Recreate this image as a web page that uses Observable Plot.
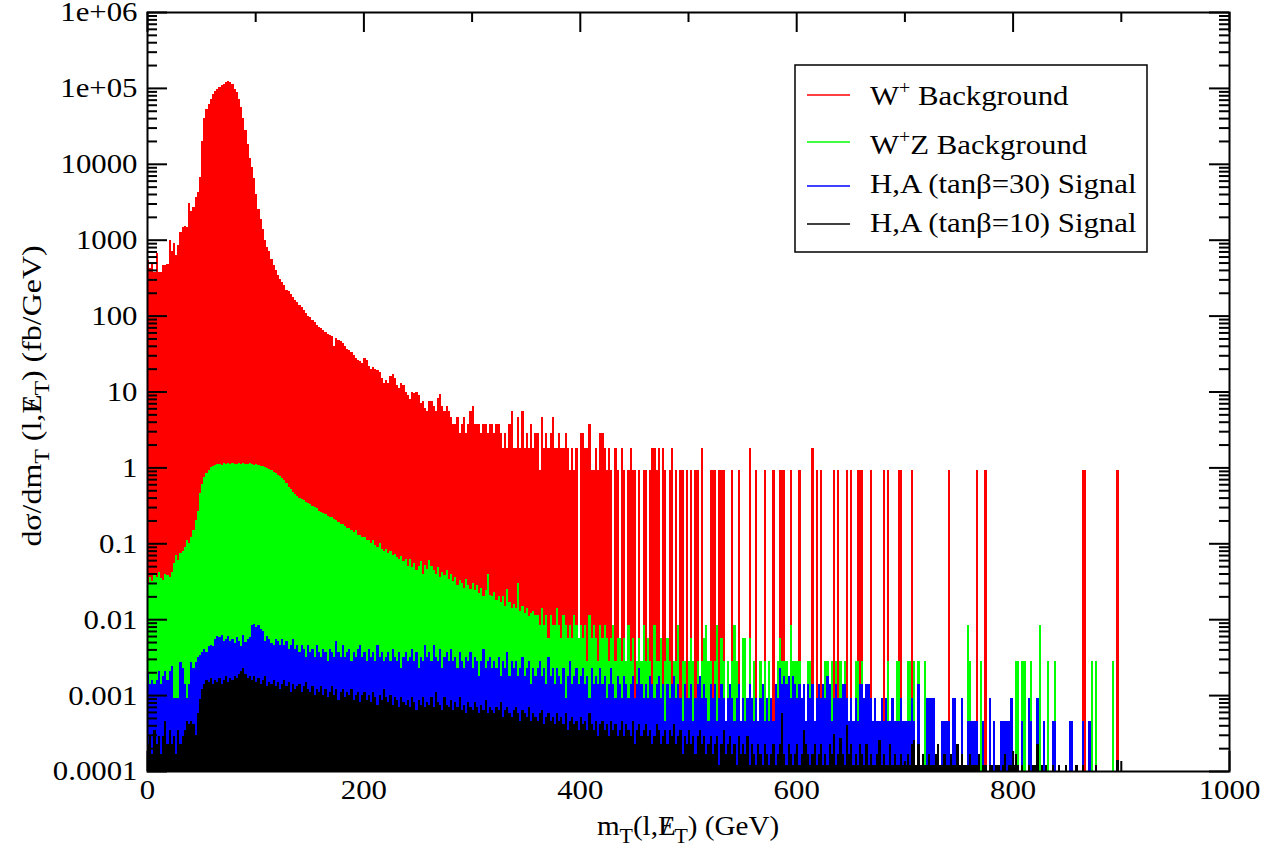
<!DOCTYPE html>
<html>
<head>
<meta charset="utf-8">
<script src="https://cdn.jsdelivr.net/npm/d3@7"></script>
<script src="https://cdn.jsdelivr.net/npm/@observablehq/plot@0.6"></script>
<style>
html,body{margin:0;padding:0;background:#fff;}
#chart{position:relative;width:1272px;height:848px;}
</style>
</head>
<body>
<div id="chart"></div>
<script>
// Histogram bins: 2 GeV wide, starting at 0 GeV
const binWidth = 2;

// W+ background, dσ/dmT (fb/GeV) per bin
const wPlusBackground = [
540,430,500,380,670,380,380,470,470,480,
1000,700,900,620,850,1250,1450,1500,1450,3000,
2400,2700,3700,4300,6800,20000,40000,52000,62000,72000,
82000,90000,96000,102000,108000,114000,120000,124000,121000,112000,
98000,88000,72000,56000,40000,28000,18000,12000,9000,6500,
4000,2500,1900,1400,1000,800,700,560,460,400,
340,300,280,250,220,210,190,175,160,150,
140,130,118,108,100,95,88,82,76,70,
68,64,60,58,56,54,40,50,48,46,
44,40,36,35,33,30,28,26,25,24,
28,26,22,20,21,20,19,18,15,13,
14,13,16,17,15,12,11,13,12,10,
9,8,10,9.5,10,9,7,7.5,6,5.5,
7.4,7.4,6.4,5.5,8.3,9.2,6.4,5.5,6.4,5.5,
4.6,3.7,3.7,4.6,2.8,3.7,4.6,2.8,3.7,5.5,
6.4,3.7,3.7,3.7,2.8,3.7,3.7,2.8,3.7,3.7,
2.8,3.7,3.7,2.8,1.8,2.8,1.8,3.7,5.5,1.8,
1.8,4.6,1.8,5.5,1.8,2.8,1.8,3.7,1.8,2.8,
2.8,.92,4.6,1.8,2.8,1.8,2.8,4.6,1.8,1.8,
2.8,1.8,1.8,2.8,1.8,.92,1.8,.92,1.8,0,
2.8,2.8,1.8,1.8,3.7,.92,.92,1.8,.92,2.8,
2.8,1.8,.92,1.8,.92,0,1.8,.92,0,1.8,
.92,0,.92,1.8,.92,.92,0,.92,0,.92,
.92,0,.92,1.8,1.8,.92,1.8,0,1.8,.92,
0,.92,1.8,0,.92,0,.92,.92,0,.92,
0,.92,0,.92,.92,0,1.8,0,0,0,
.92,.92,.92,0,.92,.92,.92,0,0,0,
.92,0,0,.92,0,0,0,0,1.8,0,
0,.92,0,0,0,.92,0,0,0,.92,
0,0,.92,.92,.92,0,0,.92,0,0,
0,.92,0,0,0,0,0,1.8,0,.92,
0,.92,0,0,0,0,0,.92,0,.92,
0,0,0,.92,0,.92,0,0,.92,.92,
.92,0,0,0,.92,0,0,0,0,0,
.92,0,.92,0,0,0,0,.92,.92,0,
0,0,0,.92,0,0,0,0,0,0,
0,0,0,0,0,0,0,0,0,0,
.92,0,0,0,0,0,0,0,0,0,
0,0,0,.92,0,0,0,.92,0,0,
0,0,0,0,0,0,0,0,0,0,
0,0,0,0,0,0,0,0,0,0,
0,0,0,0,0,0,0,0,0,0,
0,0,0,0,0,0,0,0,0,0,
0,0,.92,.92,0,0,0,0,0,0,
0,0,0,0,0,0,0,0,.92,0
];

// W+Z background
const wzBackground = [
.03,.036,.032,.04,.036,.042,.035,.033,.04,.038,
.036,.042,.055,.07,.06,.075,.08,.09,.11,.1,
.12,.15,.2,.27,.46,.6,.75,.85,.92,1.0,
1.04,1.08,1.1,1.12,1.08,1.15,1.12,1.14,1.1,1.15,
1.12,1.1,1.13,1.1,1.15,1.12,1.1,1.14,1.1,1.08,
1.1,1.08,1.05,1.03,1.0,.98,.95,.92,.88,.85,
.8,.76,.72,.68,.62,.56,.52,.48,.45,.42,
.4,.38,.37,.35,.34,.33,.31,.3,.29,.27,
.26,.25,.24,.23,.22,.22,.21,.2,.19,.18,
.18,.17,.16,.16,.15,.14,.15,.13,.13,.12,
.12,.11,.11,.1,.11,.095,.09,.1,.085,.08,
.085,.075,.08,.07,.072,.065,.062,.068,.058,.062,
.05,.062,.048,.055,.045,.05,.058,.04,.052,.046,
.06,.05,.044,.04,.048,.036,.042,.038,.045,.034,
.04,.032,.036,.028,.033,.03,.026,.034,.028,.025,
.03,.024,.028,.022,.026,.02,.024,.04,.021,.02,
.023,.018,.02,.017,.02,.015,.025,.017,.014,.016,
.014,.03,.013,.015,.012,.014,.011,.012,.013,.0114,
.0114,.0085,.0142,.0085,.0114,.0057,.0114,.0085,.0085,.0142,
.0085,.0057,.0114,.0085,.0057,.0085,.0057,.0114,.0085,.0057,
.0085,.0057,.0085,.0028,.0114,.0057,.0085,.0057,.0028,.0085,
.0057,.0085,.0057,.0028,.0057,.0085,.0028,.0057,.0057,.0028,
.0057,.0028,.0085,.0028,.0057,0,.0028,.0057,.0028,.0085,
.0028,.0057,.0028,0,.0085,.0028,.0028,.0057,0,.0028,
.0057,.0028,0,.0028,.0028,.0085,0,.0028,.0028,0,
.0028,.0057,.0028,0,.0028,0,.0028,.0057,.0085,.0028,
.0028,0,.0028,.0085,0,.0057,.0028,0,.0028,0,
.0028,.0085,.0028,0,0,.0057,.0057,0,.0057,0,
.0028,0,0,.0028,0,.0028,0,.0028,0,0,
0,.0028,.0057,.0028,.0028,.0028,0,.0085,.0028,.0028,
.0028,.0028,0,0,0,.0028,.0028,0,0,0,
0,0,0,.0028,.0028,0,.0028,0,.0028,0,
.0028,0,.0028,0,0,0,0,.0028,.0028,0,
.0028,0,0,0,0,0,0,0,0,0,
0,0,.0028,0,0,0,.0028,.0028,0,0,
0,.0028,.0028,0,.0028,0,.0028,0,0,.0028,
0,0,0,0,0,0,0,0,0,0,
0,0,0,0,0,0,0,0,0,.0085,
.0028,0,0,0,0,.0028,0,0,0,0,
0,0,0,0,0,0,0,0,0,0,
0,.0028,.0028,0,.0028,.0028,0,0,.0028,0,
0,0,.0085,0,0,0,.0028,0,0,.0028,
0,0,0,0,0,0,0,0,0,0,
0,0,0,0,0,0,.0028,0,.0028,0,
0,0,0,0,0,0,.0028,0,0,0
];

// H,A signal, tanβ = 30
const signalTan30 = [
.002,.0014,.0016,.0014,.0016,.0021,.0014,.0018,.0021,.0016,
.0021,.0024,.00092,.00092,.00092,.0027,.0023,.0014,.00092,.0014,
.0027,.0023,.0027,.0032,.0034,.0037,.004,.0037,.0045,.0046,
.0044,.0055,.006,.0058,.0062,.0052,.0055,.006,.0051,.0055,
.0049,.0058,.0052,.0045,.0062,.005,.0055,.0058,.0083,.0087,
.0078,.0083,.0074,.0069,.0051,.006,.0055,.0049,.0046,.0055,
.0051,.0046,.0055,.0046,.0051,.0041,.0046,.0055,.0041,.0046,
.0037,.0046,.0041,.0032,.0046,.0037,.0041,.0032,.0046,.0037,
.0032,.0041,.0037,.0028,.0041,.0037,.0032,.0051,.0037,.0032,
.0046,.0032,.0037,.0041,.0028,.0037,.0032,.0041,.0046,.0032,
.0037,.0028,.0041,.0032,.0037,.0028,.0046,.0032,.0037,.0028,
.0032,.0037,.0028,.0041,.0032,.0028,.0037,.0023,.0032,.0037,
.0028,.0032,.0041,.0028,.0037,.0023,.0032,.0028,.0046,.0032,
.0037,.0028,.0046,.0032,.0028,.0041,.0023,.0032,.0037,.0028,
.0041,.0028,.0032,.0023,.0037,.0028,.0023,.0032,.0028,.0037,
.0023,.0032,.0028,.0018,.0028,.0041,.0023,.0028,.0032,.0023,
.0028,.0023,.0032,.0018,.0028,.0023,.0037,.0018,.0028,.0023,
.0028,.0018,.0023,.0032,.0018,.0023,.0028,.0014,.0023,.0018,
.0023,.0028,.0018,.0023,.0014,.0032,.0018,.0023,.0014,.0023,
.0018,.0014,.0023,.00092,.0018,.0028,.0014,.0018,.0023,.0014,
.0018,.0023,.0014,.0018,.00092,.0023,.0014,.0018,.0014,.0023,
.0014,.0018,.00092,.0014,.0023,.0014,.00092,.0018,.0014,.00092,
.0018,.0014,.00092,.0014,.0018,.00092,.0014,.0023,.0014,.00092,
.0014,.00092,.0018,.0014,.00092,.0014,.0018,.00092,.0014,.00046,
.0014,.00092,.0014,.0018,.00092,.0014,.00092,.00046,.0014,.00092,
.00092,.0014,.00046,.00092,.0014,.0018,.00092,.0014,.00092,.00046,
.0014,.00092,.0014,.00046,.00092,.0014,.00092,.00046,.00092,.0014,
.00092,.00046,.00092,.0014,.00046,.00092,.00046,.00092,.0014,.00092,
.00046,.00092,.00046,.00092,.0014,.00046,.00092,.00046,.00092,.00046,
.0014,.00092,.0023,.0014,.0018,.0014,.0018,.00092,.0018,.0014,
.00092,.0014,.00092,.0014,.00046,.0014,.00092,.0014,.00046,.00092,
.0014,.00092,.0014,.00092,.0018,.0014,.00046,.00092,.0014,.00092,
.00092,.0014,.0014,.00092,.00046,.00092,.00046,.00092,.00046,.0014,
.0014,.00092,.0014,.0014,.00092,.00046,.00092,.00046,.00046,.00092,
.00046,.00092,.00046,.00046,.00092,.00046,.00046,.00046,.00092,.00046,
.00046,.00046,.00046,.00092,.00046,0,.0014,0,0,0,
.00092,.00092,.00092,.00092,0,0,0,.00046,.00046,.00046,
.00046,0,.00092,.00092,0,0,.00092,0,0,.00046,
.00046,.00046,.00046,.00046,0,0,.00046,0,0,.00092,
0,.00046,0,0,.00046,.00046,.00046,.00046,.00046,.00092,
0,0,0,0,.00046,0,0,.00092,.00046,0,
0,.00092,0,0,.00046,0,0,0,.00046,.00046,
0,0,0,0,0,0,.00046,.00046,0,0,
0,0,.00046,0,0,.00046,0,0,0,0,
0,0,0,0,0,0,0,0,0,0
];

// H,A signal, tanβ = 10
const signalTan10 = [
.00023,.00029,.00017,.00035,.00023,.00029,.00017,.00029,.00046,.00023,
.00035,.00023,.00029,.00017,.00035,.00023,.00029,.00035,.00046,.00041,
.00046,.00041,.0003,.00058,.0009,.0012,.0014,.0016,.0015,.0017,
.0014,.0016,.0015,.0017,.0014,.0016,.0018,.0015,.0017,.0016,
.0018,.0017,.0019,.0021,.0023,.0019,.0017,.0018,.0016,.0018,
.0015,.0017,.0014,.0016,.0018,.0013,.0015,.0014,.0016,.0013,
.0015,.0012,.0014,.0016,.0013,.0015,.0011,.0014,.0012,.0013,
.0014,.0011,.0013,.0015,.0012,.0011,.0013,.001,.0012,.0011,
.0013,.001,.0012,.00093,.0011,.0013,.001,.0012,.00087,.0011,
.0012,.00093,.0011,.001,.0012,.00087,.001,.0011,.00081,.001,
.0011,.00087,.001,.00081,.0011,.00093,.00075,.001,.00087,.0012,
.00093,.00081,.001,.00075,.00093,.00087,.0007,.00093,.00081,.00075,
.00087,.0007,.00093,.00081,.00064,.00087,.00075,.00093,.0007,.00081,
.00075,.00093,.0007,.0011,.00081,.00075,.00064,.00093,.00075,.0007,
.00087,.00064,.00081,.0007,.00093,.00064,.00075,.00058,.00081,.0007,
.00064,.00081,.0007,.00058,.00075,.00064,.00087,.00058,.0007,.00064,
.00058,.0007,.00064,.00081,.00052,.00064,.0007,.00058,.00052,.00064,
.0007,.00058,.00046,.00064,.00058,.00052,.0007,.00046,.00058,.00052,
.00046,.00058,.00064,.00041,.00052,.00058,.00046,.00052,.00041,.00058,
.00046,.00052,.00041,.00058,.00035,.00046,.00052,.00041,.00046,.00035,
.00052,.00041,.00046,.00035,.00058,.00041,.00035,.00046,.00029,.00041,
.00046,.00035,.00041,.00029,.00046,.00035,.00041,.00029,.00035,.00046,
.00029,.00041,.00035,.00029,.00046,.00023,.00035,.00041,.00029,.00035,
.00041,.00029,.00035,.00023,.00029,.00041,.00035,.00023,.00029,.00035,
.00023,.00035,.00029,.00041,.00023,.00029,.00035,.00017,.00029,.00023,
.00035,.00023,.00029,.00017,.00029,.00035,.00023,.00029,.00017,.00023,
.00029,.00017,.00023,.00029,.00012,.00023,.00035,.00017,.00023,.00029,
.00017,.00023,.00012,.00029,.00017,.00023,.00017,.00029,.00012,.00023,
.00017,.00012,.00023,.00017,.00012,.00023,.00017,.00012,.00017,.00023,
.00012,.00017,.00023,.00058,.00017,.00012,.00023,.00017,.00012,.00017,
.00023,.00012,.00017,.00035,.00023,.00017,.00012,.00017,.00023,.00012,
.00017,.00023,.00012,.00017,.00012,.00023,.00017,.00031,.00012,.00017,
.00027,.00017,.00012,.0004,.00017,.00023,.00012,.00017,.00012,.00023,
.00017,.00012,.00023,.00012,.00017,.00012,.00012,.00017,.00026,.00012,
.00017,.00012,.00012,.00023,.00012,.00017,.00012,.00012,.00017,.00012,
.00012,.00017,.00012,.00023,.00026,.00012,.00023,.00012,.00017,.00012,
.00012,.00017,.00012,.00012,.00017,.00023,.00012,.00012,.00017,.00012,
.00012,.00017,.00012,.00012,.00023,.00012,.00017,.00012,.00012,.00012,
.00017,.00012,.00012,.00012,.00017,0,.00012,.00012,0,.00012,
.00012,0,.00012,.00012,0,.00012,.00017,0,.00012,.00012,
.00012,.00017,.00012,0,.00012,0,0,.00012,0,.00012,
.00012,.00023,0,.00012,0,.00012,0,0,.00012,0,
0,.00012,0,0,.00012,0,0,0,0,.00012,
0,0,.00012,0,0,0,0,0,.00012,0,
0,0,0,0,0,0,0,0,.00014,0
];

const seriesValues = [wPlusBackground, wzBackground, signalTan30, signalTan10];
const seriesKeys = ["W+ Background", "W+Z Background", "H,A (tanβ=30) Signal", "H,A (tanβ=10) Signal"];
const seriesColors = ["#ff0000", "#00ff00", "#0000ff", "#000000"];

const xTicks = [0, 200, 400, 600, 800, 1000];
const xTickLabels = ["0", "200", "400", "600", "800", "1000"];
const xMinorTicks = [100, 300, 500, 700, 900];
const yTicks = [1e6, 1e5, 1e4, 1e3, 100, 10, 1, 0.1, 0.01, 0.001, 0.0001];
const yTickLabels = ["1e+06", "1e+05", "10000", "1000", "100", "10", "1", "0.1", "0.01", "0.001", "0.0001"];

const W = 1272, H = 848, mL = 147, mR = 43, mT = 12, mB = 77;
const fw = W - mL - mR, fh = H - mT - mB;
const yMinor = [];
for (let e = -4; e < 6; e++) for (let m = 2; m < 10; m++) yMinor.push(m * Math.pow(10, e));

const rows = seriesValues.map((vals, s) =>
  vals.map((v, i) => ({series: seriesKeys[s], x0: i * binWidth, x1: (i + 1) * binWidth, v}))
      .filter(d => d.v > 0)
);

const fontFam = "'Liberation Serif','Times New Roman',serif";
const plot = Plot.plot({
  width: W, height: H,
  marginLeft: mL, marginRight: mR, marginTop: mT, marginBottom: mB,
  style: {fontFamily: fontFam, fontSize: "28px", background: "#fff", color: "#000", overflow: "visible"},
  x: {domain: [0, 1000]},
  y: {type: "log", domain: [1e-4, 1e6]},
  marks: [
    ...rows.map((r, s) => Plot.rect(r, {x1: "x0", x2: "x1", y1: 1e-4, y2: "v", fill: seriesColors[s], shapeRendering: "crispEdges"})),
    Plot.frame({stroke: "#000", strokeWidth: 2}),
    Plot.tickY(yTicks, {y: d => d, insetRight: fw - 20, strokeWidth: 2}),
    Plot.tickY(yTicks, {y: d => d, insetLeft: fw - 20, strokeWidth: 2}),
    Plot.tickY(yMinor, {y: d => d, insetRight: fw - 10, strokeWidth: 2}),
    Plot.tickY(yMinor, {y: d => d, insetLeft: fw - 10, strokeWidth: 2}),
    Plot.tickX(xTicks, {x: d => d, insetTop: fh - 20, strokeWidth: 2}),
    Plot.tickX(xTicks, {x: d => d, insetBottom: fh - 20, strokeWidth: 2}),
    Plot.tickX(xMinorTicks, {x: d => d, insetTop: fh - 10, strokeWidth: 2}),
    Plot.tickX(xMinorTicks, {x: d => d, insetBottom: fh - 10, strokeWidth: 2}),
    Plot.axisX({ticks: xTicks, tickSize: 0, tickPadding: 8, tickFormat: d => xTickLabels[xTicks.indexOf(d)], label: null, fontSize: 28}),
    Plot.axisY({ticks: yTicks, tickSize: 0, tickPadding: 10, tickFormat: d => yTickLabels[yTicks.indexOf(d)], label: null, fontSize: 28})
  ]
});
document.getElementById("chart").appendChild(plot);

const svg = d3.select(plot);
// widen tick labels slightly (the reference face is broader than Liberation Serif)
svg.selectAll('[aria-label="x-axis tick label"] text, [aria-label="y-axis tick label"] text').each(function () {
  const L = this.getComputedTextLength();
  if (L > 0) {
    this.setAttribute("textLength", (L * 1.1).toFixed(1));
    this.setAttribute("lengthAdjust", "spacingAndGlyphs");
  }
});

// Axis titles and legend (text with sub/superscripts)
function richText(parent, parts, attrs) {
  const t = parent.append("text");
  Object.entries(attrs).forEach(([k, v]) => t.attr(k, v));
  let shift = 0;
  parts.forEach(p => {
    const target = p.sub ? 8 : p.sup ? -11 : 0;
    const s = t.append("tspan").text(p.t).attr("dy", target - shift);
    if (p.sub) s.attr("font-size", 21);
    if (p.sup) s.attr("font-size", 18);
    if (p.dx != null) s.attr("dx", p.dx);
    shift = target;
  });
  return t;
}
// "E" with an overlaid "/" = missing transverse energy
const xTitleParts = [{t: "m"}, {t: "T", sub: true}, {t: "(l,E"}, {t: "/", dx: -13}, {t: "T", sub: true, dx: 4}, {t: ") (GeV)"}];
const yTitleParts = [{t: "d\u03c3/dm"}, {t: "T", sub: true}, {t: " (l,E"}, {t: "/", dx: -13}, {t: "T", sub: true, dx: 4}, {t: ") (fb/GeV)"}];
const xg = svg.append("g").attr("transform", `translate(${mL + fw / 2},835) scale(1.04,1)`);
richText(xg, xTitleParts, {x: 0, y: 0, "text-anchor": "middle", "font-size": 28, "font-family": fontFam, fill: "#000"});
const yg = svg.append("g").attr("transform", `translate(41,396) rotate(-90) scale(1.14,1)`);
richText(yg, yTitleParts, {x: 0, y: 0, "text-anchor": "middle", "font-size": 28, "font-family": fontFam, fill: "#000"});

const legendParts = [
  [{t: "W"}, {t: "+", sup: true}, {t: " Background"}],
  [{t: "W"}, {t: "+", sup: true}, {t: "Z Background"}],
  [{t: "H,A (tan\u03b2=30) Signal"}],
  [{t: "H,A (tan\u03b2=10) Signal"}]
];
const legendBaselines = [105, 154, 193, 232];
const legendLineY = [95, 142, 186, 224];
const lg = svg.append("g");
lg.append("rect").attr("x", 795).attr("y", 65).attr("width", 352).attr("height", 187)
  .attr("fill", "#fff").attr("stroke", "#000").attr("stroke-width", 1.5);
legendParts.forEach((parts, i) => {
  lg.append("line").attr("x1", 807).attr("x2", 850).attr("y1", legendLineY[i]).attr("y2", legendLineY[i])
    .attr("stroke", seriesColors[i]).attr("stroke-width", 1.5);
  const tg = lg.append("g").attr("transform", `translate(870,${legendBaselines[i]}) scale(1.1,1)`);
  richText(tg, parts, {x: 0, y: 0, "text-anchor": "start", "font-size": 28, "font-family": fontFam, fill: "#000"});
});
</script>
</body>
</html>
